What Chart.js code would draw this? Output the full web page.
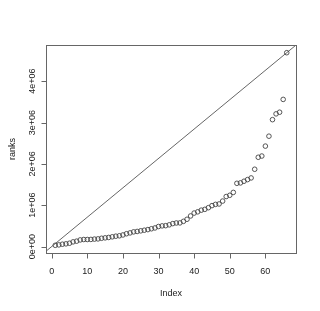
<!DOCTYPE html>
<html><head><meta charset="utf-8">
<script src="https://cdn.jsdelivr.net/npm/chart.js@4/dist/chart.umd.min.js"></script>
<style>html,body{margin:0;padding:0;background:#fff}#wrap{width:320px;height:311px}</style>
</head><body><div id="wrap"><canvas id="c" width="320" height="311"></canvas></div>
<script>
// Index 1..66 and ranks values
const indexValues = Array.from({length: 66}, (_, i) => i + 1);
const ranks = [
  30000, 40000, 56000, 65000, 80000, 113000, 130000, 160000, 170000, 170000,
  172000, 180000, 185000, 200000, 210000, 220000, 235000, 250000, 260000, 280000,
  310000, 330000, 355000, 365000, 380000, 395000, 410000, 430000, 450000, 485000,
  500000, 505000, 525000, 555000, 570000, 572000, 610000, 660000, 740000, 810000,
  840000, 880000, 900000, 940000, 990000, 1020000, 1030000, 1100000, 1210000, 1240000,
  1310000, 1530000, 1540000, 1580000, 1620000, 1660000, 1870000, 2160000, 2190000, 2430000,
  2670000, 3070000, 3210000, 3250000, 3560000, 4690000
];
const ablineIntercept = 0;
const ablineSlope = 71060;
const xTickValues = [0, 10, 20, 30, 40, 50, 60];
const yTickValues = [0, 1e6, 2e6, 3e6, 4e6];
const xLabel = "Index";
const yLabel = "ranks";

function padRange(a, b) { const d = (b - a) * 0.04; return [a - d, b + d]; }
const [xMin, xMax] = padRange(Math.min(...indexValues), Math.max(...indexValues));
const [yMin, yMax] = padRange(Math.min(...ranks), Math.max(...ranks));

function rExp(v) {
  if (v === 0) return "0e+00";
  const e = Math.floor(Math.log10(Math.abs(v)));
  const m = Math.round(v / Math.pow(10, e));
  return m + "e" + (e < 0 ? "-" : "+") + String(Math.abs(e)).padStart(2, "0");
}

const FONT = '9px "Liberation Sans", Arial, sans-serif';
const TXT = '#222';

const rAxes = {
  id: 'rAxes',
  afterDraw(chart) {
    const ctx = chart.ctx, a = chart.chartArea;
    const xs = chart.scales.x, ys = chart.scales.y;
    ctx.save();
    ctx.strokeStyle = '#666';
    ctx.lineWidth = 1;
    ctx.strokeRect(Math.round(a.left) + 0.5, Math.round(a.top) + 0.5, Math.round(a.right - a.left), Math.round(a.bottom - a.top));
    ctx.font = FONT;
    ctx.fillStyle = TXT;
    // x axis
    const xt = xs.ticks.map(t => t.value).filter(v => xTickValues.includes(v));
    const by = Math.round(a.bottom) + 0.5;
    ctx.beginPath();
    ctx.moveTo(xs.getPixelForValue(xt[0]), by);
    ctx.lineTo(xs.getPixelForValue(xt[xt.length - 1]), by);
    xt.forEach(v => { const p = Math.round(xs.getPixelForValue(v)) + 0.5; ctx.moveTo(p, by); ctx.lineTo(p, by + 5); });
    ctx.stroke();
    ctx.textAlign = 'center'; ctx.textBaseline = 'middle';
    xt.forEach(v => ctx.fillText(String(v), xs.getPixelForValue(v), by + 18));
    ctx.fillText(xLabel, (a.left + a.right) / 2, by + 40);
    // y axis
    const yt = ys.ticks.map(t => t.value).filter(v => yTickValues.includes(v));
    const lx = Math.round(a.left) + 0.5;
    ctx.beginPath();
    ctx.moveTo(lx, ys.getPixelForValue(yt[0]));
    ctx.lineTo(lx, ys.getPixelForValue(yt[yt.length - 1]));
    yt.forEach(v => { const p = Math.round(ys.getPixelForValue(v)) + 0.5; ctx.moveTo(lx, p); ctx.lineTo(lx - 5, p); });
    ctx.stroke();
    yt.forEach(v => {
      ctx.save(); ctx.translate(lx - 14, ys.getPixelForValue(v)); ctx.rotate(-Math.PI / 2);
      ctx.fillText(rExp(v), 0, 0); ctx.restore();
    });
    ctx.save(); ctx.translate(13, (a.top + a.bottom) / 2); ctx.rotate(-Math.PI / 2);
    ctx.fillText(yLabel, 0, 0); ctx.restore();
    ctx.restore();
  }
};

new Chart(document.getElementById('c'), {
  type: 'scatter',
  data: {
    datasets: [
      {
        data: indexValues.map((x, i) => ({x, y: ranks[i]})),
        showLine: false,
        pointStyle: 'circle',
        pointRadius: 2.3,
        pointBorderWidth: 0.9,
        pointBackgroundColor: 'rgba(0,0,0,0)',
        pointBorderColor: '#444',
        order: 1
      },
      {
        type: 'line',
        data: [xMin, xMax].map(x => ({x, y: ablineIntercept + ablineSlope * x})),
        borderColor: '#555',
        borderWidth: 0.9,
        pointRadius: 0,
        fill: false,
        clip: 0,
        order: 2
      }
    ]
  },
  options: {
    responsive: false,
    animation: false,
    devicePixelRatio: 1,
    layout: { padding: { left: 0, right: 24, top: 45, bottom: 0 } },
    plugins: { legend: { display: false }, tooltip: { enabled: false } },
    scales: {
      x: {
        type: 'linear', min: xMin, max: xMax,
        grid: { display: false }, border: { display: false },
        ticks: { display: false, stepSize: 10 },
        afterBuildTicks: s => { s.ticks = xTickValues.map(v => ({value: v})); },
        afterFit: s => { s.height = 58; }
      },
      y: {
        type: 'linear', min: yMin, max: yMax,
        grid: { display: false }, border: { display: false },
        ticks: { display: false, stepSize: 1e6 },
        afterBuildTicks: s => { s.ticks = yTickValues.map(v => ({value: v})); },
        afterFit: s => { s.width = 46; }
      }
    }
  },
  plugins: [rAxes]
});
</script>
</body></html>
